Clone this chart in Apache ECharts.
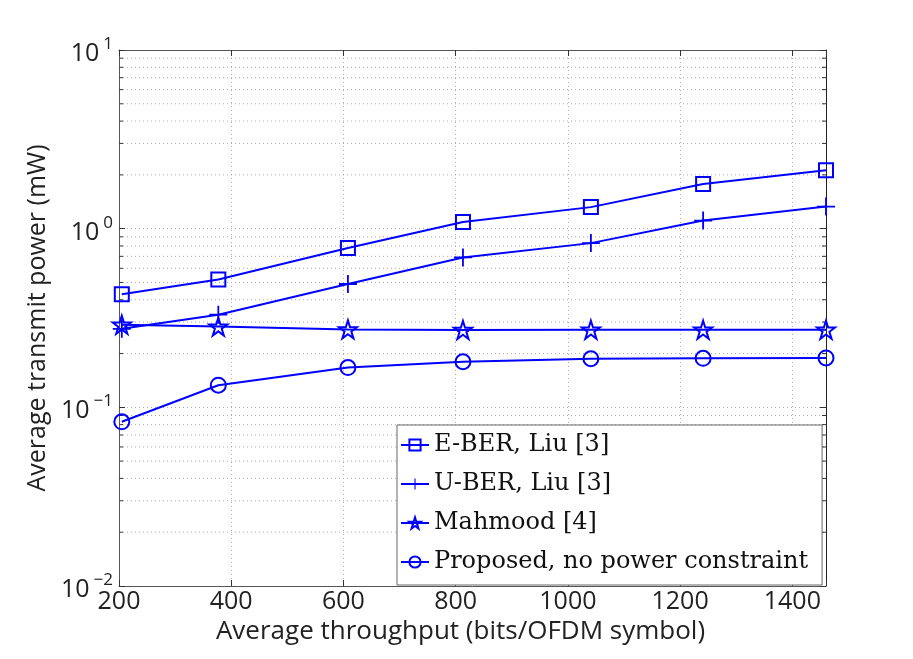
<!DOCTYPE html>
<html><head><meta charset="utf-8">
<script src="https://cdn.jsdelivr.net/npm/echarts@6/dist/echarts.min.js"></script>
<style>html,body{margin:0;padding:0;background:#fff}#c{width:913px;height:659px}</style>
</head><body><div id="c"></div>
<script>
var throughput = [205, 377, 608, 813, 1041, 1241, 1460];
var eber = [0.43, 0.52, 0.78, 1.09, 1.32, 1.78, 2.12];
var uber = [0.275, 0.33, 0.49, 0.69, 0.83, 1.11, 1.33];
var mahmood = [0.29, 0.283, 0.273, 0.271, 0.272, 0.272, 0.272];
var proposed = [0.083, 0.133, 0.167, 0.180, 0.187, 0.188, 0.189];
var seriesNames = ['E-BER, Liu [3]', 'U-BER, Liu [3]', 'Mahmood [4]', 'Proposed, no power constraint'];
var xTicks = [200, 400, 600, 800, 1000, 1200, 1400];
var yMinor = [0.02,0.03,0.04,0.05,0.06,0.07,0.08,0.09,0.2,0.3,0.4,0.5,0.6,0.7,0.8,0.9,2,3,4,5,6,7,8,9];

var BLUE = '#0000ff';
var SANS = 'Open Sans';
var SERIF = 'DejaVu Serif';
function pairs(ys){ return throughput.map(function(x,i){return [x, ys[i]];}); }
var starPath = 'path://M0,-100L22.5,-30.9L95.1,-30.9L36.3,11.8L58.8,80.9L0,38.2L-58.8,80.9L-36.3,11.8L-95.1,-30.9L-22.5,-30.9Z';
var plusPath = 'path://M-1,-10L1,-10L1,10L-1,10ZM-10,-1L10,-1L10,1L-10,1Z';

function lineSeries(name, ys, symbol, size, filled){
  return {
    name: name, type: 'line', data: pairs(ys), symbol: symbol, symbolSize: size,
    showAllSymbol: true, z: 5,
    lineStyle: {color: BLUE, width: 2},
    itemStyle: filled ? {color: BLUE, borderWidth: 0} : {color: 'rgba(255,255,255,0)', borderColor: BLUE, borderWidth: 2},
    emphasis: {disabled: true}
  };
}

var chart = echarts.init(document.getElementById('c'), null, {renderer: 'canvas'});
chart.setOption({
  animation: false,
  backgroundColor: '#fff',
  grid: {left: 119, right: 87, top: 50, bottom: 73, containLabel: false},
  legend: {
    data: seriesNames, orient: 'vertical', left: 397, top: 425,
    itemWidth: 28, itemHeight: 14, itemGap: 15,
    padding: [8, 14, 11, 3],
    backgroundColor: '#fff', borderColor: '#666', borderWidth: 1,
    textStyle: {fontFamily: SERIF, fontSize: 24, color: '#111'}
  },
  xAxis: [{
    type: 'value', min: 200, max: 1460, interval: 200,
    name: 'Average throughput (bits/OFDM symbol)', nameLocation: 'middle', nameGap: 29,
    nameTextStyle: {fontFamily: SANS, fontSize: 26, color: '#222', padding: [0, 24, 0, 0]},
    axisLine: {show: true, lineStyle: {color: '#555', width: 1}},
    axisTick: {show: true, inside: true, length: 6, lineStyle: {color: '#333'}},
    axisLabel: {fontFamily: SANS, fontSize: 25, color: '#222', margin: 3,
      formatter: function(v){ return xTicks.indexOf(v) >= 0 ? String(v) : ''; }},
    splitLine: {show: true, lineStyle: {color: '#aaa', type: [1, 3], width: 1}}
  }, {
    type: 'value', position: 'top', min: 200, max: 1460, interval: 200,
    axisLine: {show: true, lineStyle: {color: '#555', width: 1}},
    axisTick: {show: true, inside: true, length: 6, lineStyle: {color: '#333'}},
    axisLabel: {show: false}, splitLine: {show: false}
  }],
  yAxis: [{
    type: 'log', logBase: 10, min: 0.01, max: 10,
    name: 'Average transmit power (mW)', nameLocation: 'middle', nameGap: 59,
    nameTextStyle: {fontFamily: SANS, fontSize: 25, color: '#222'},
    axisLine: {show: true, lineStyle: {color: '#555', width: 1}},
    axisTick: {show: true, inside: true, length: 6, lineStyle: {color: '#333'}},
    axisLabel: {margin: 6, color: '#222',
      formatter: function(v){ var e = Math.round(Math.log10(v)); return '{b|10}{s|' + (e < 0 ? '\u2212' + (-e) : e) + '}'; },
      rich: {b: {fontFamily: SANS, fontSize: 25, color: '#222', padding: [8, 0, 0, 0]},
             s: {fontFamily: SANS, fontSize: 17, color: '#222', padding: [0, 0, 12, 4]}}},
    splitLine: {show: true, lineStyle: {color: '#aaa', type: [1, 3], width: 1}}
  }, {
    type: 'log', logBase: 10, min: 0.01, max: 10, position: 'right',
    axisLine: {show: true, lineStyle: {color: '#222', width: 1}},
    axisTick: {show: true, inside: true, length: 6, lineStyle: {color: '#333'}},
    axisLabel: {show: false}, splitLine: {show: false}
  }],
  series: [
    {
      type: 'custom', name: 'minorgrid', xAxisIndex: 0, yAxisIndex: 0, z: 1, silent: true,
      data: yMinor.map(function(v){ return [200, v]; }),
      encode: {x: 0, y: 1},
      renderItem: function(params, api){
        var y = api.value(1);
        var p0 = api.coord([200, y]);
        var p1 = api.coord([1460, y]);
        return {type: 'group', children: [
          {type: 'line', shape: {x1: p0[0], y1: p0[1], x2: p1[0], y2: p1[1]},
           style: {stroke: '#aaa', lineWidth: 1, lineDash: [1, 3]}},
          {type: 'line', shape: {x1: p0[0], y1: p0[1], x2: p0[0] + 4, y2: p0[1]},
           style: {stroke: '#333', lineWidth: 1}},
          {type: 'line', shape: {x1: p1[0] - 4, y1: p1[1], x2: p1[0], y2: p1[1]},
           style: {stroke: '#333', lineWidth: 1}}
        ]};
      }
    },
    lineSeries(seriesNames[0], eber, 'rect', 14, false),
    lineSeries(seriesNames[1], uber, plusPath, 18, true),
    lineSeries(seriesNames[2], mahmood, starPath, 18, false),
    lineSeries(seriesNames[3], proposed, 'circle', 15, false)
  ]
});
</script></body></html>
